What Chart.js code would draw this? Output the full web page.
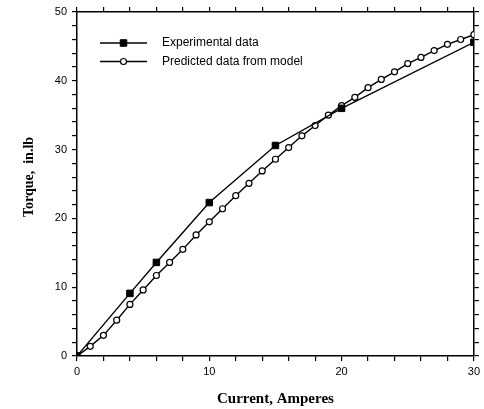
<!DOCTYPE html>
<html>
<head>
<meta charset="utf-8">
<script src="https://cdn.jsdelivr.net/npm/chart.js@4.4.0/dist/chart.umd.min.js"></script>
<style>
html, body { margin: 0; padding: 0; background: #fff; }
#wrap { width: 484px; height: 409px; }
</style>
</head>
<body>
<div id="wrap"><canvas id="torqueChart"></canvas></div>
<script>
// measured values
const currentExp = [0, 4, 6, 10, 15, 20, 30];
const torqueExp = [0, 9.1, 13.6, 22.3, 30.6, 36.0, 45.6];

const currentModel = [0, 1, 2, 3, 4, 5, 6, 7, 8, 9, 10, 11, 12, 13, 14, 15,
    16, 17, 18, 19, 20, 21, 22, 23, 24, 25, 26, 27, 28, 29, 30];
const torqueModel = [0, 1.4, 3.0, 5.2, 7.5, 9.6, 11.7, 13.6, 15.5, 17.6, 19.5,
    21.4, 23.3, 25.1, 26.9, 28.6, 30.3, 32.0, 33.5, 35.0, 36.4, 37.6, 39.0,
    40.2, 41.3, 42.5, 43.4, 44.4, 45.3, 46.0, 46.7];

const seriesLabels = ['Experimental data', 'Predicted data from model'];
const xLabelEvery = 10;
const yLabelEvery = 10;

const toPoints = (xs, ys) => xs.map((x, i) => ({ x: x, y: ys[i] }));

const tickFont = { family: "'Liberation Sans', Arial, sans-serif", size: 11 };
const serif = "'Liberation Serif', 'Times New Roman', serif";

// draws the legend inside the plot, line + marker like the original
const insetLegend = {
    id: 'insetLegend',
    afterDatasetsDraw(chart) {
        const { ctx, chartArea } = chart;
        chart.data.datasets.forEach((ds, i) => {
            const y = chartArea.top + 31 + i * 18.5;
            const x0 = chartArea.left + 23;
            const x1 = x0 + 47;
            ctx.save();
            ctx.strokeStyle = '#000';
            ctx.lineWidth = ds.borderWidth;
            ctx.beginPath();
            ctx.moveTo(x0, y);
            ctx.lineTo(x1, y);
            ctx.stroke();
            ctx.fillStyle = ds.pointBackgroundColor;
            ctx.strokeStyle = ds.pointBorderColor;
            ctx.lineWidth = ds.pointBorderWidth;
            Chart.helpers.drawPoint(ctx, {
                pointStyle: ds.pointStyle,
                radius: ds.pointRadius,
                borderWidth: ds.pointBorderWidth,
                rotation: 0
            }, (x0 + x1) / 2, y);
            ctx.fillStyle = '#000';
            ctx.font = "12px 'Liberation Sans', Arial, sans-serif";
            ctx.textAlign = 'left';
            ctx.textBaseline = 'middle';
            ctx.fillText(ds.label, chartArea.left + 85, y);
            ctx.restore();
        });
    }
};

const axisBase = {
    type: 'linear',
    border: { display: true, color: '#000', width: 1.5 },
    grid: { drawOnChartArea: false, drawTicks: true, tickLength: 5, color: '#000', lineWidth: 1.2 }
};

const ctx = document.getElementById('torqueChart').getContext('2d');
const torqueChart = new Chart(ctx, {
    type: 'scatter',
    data: {
        datasets: [
            {
                label: seriesLabels[0],
                data: toPoints(currentExp, torqueExp),
                showLine: true,
                borderColor: '#000',
                borderWidth: 1.4,
                pointStyle: 'rect',
                pointRadius: 4.6,
                pointBackgroundColor: '#000',
                pointBorderColor: '#000',
                pointBorderWidth: 1,
                tension: 0
            },
            {
                label: seriesLabels[1],
                data: toPoints(currentModel, torqueModel),
                showLine: true,
                borderColor: '#000',
                borderWidth: 1.4,
                pointStyle: 'circle',
                pointRadius: 3,
                pointBackgroundColor: '#fff',
                pointBorderColor: '#000',
                pointBorderWidth: 1.2,
                tension: 0
            }
        ]
    },
    options: {
        responsive: true,
        maintainAspectRatio: false,
        animation: false,
        layout: { padding: 0 },
        plugins: {
            legend: { display: false },
            tooltip: { enabled: false }
        },
        scales: {
            x: {
                ...axisBase,
                position: 'bottom',
                min: 0,
                max: 30,
                afterFit: s => { s.height = 53; },
                ticks: {
                    stepSize: 2,
                    autoSkip: false,
                    maxRotation: 0,
                    padding: 4,
                    color: '#000',
                    font: tickFont,
                    callback: v => (v % xLabelEvery === 0 ? v : '')
                },
                title: {
                    display: true,
                    text: 'Current, Amperes',
                    color: '#000',
                    font: { family: serif, size: 15, weight: 'bold' },
                    padding: { top: 0, bottom: 1 }
                }
            },
            x2: {
                ...axisBase,
                position: 'top',
                min: 0,
                max: 30,
                afterFit: s => { s.height = 12; },
                ticks: { stepSize: 2, autoSkip: false, callback: () => '' }
            },
            y: {
                ...axisBase,
                position: 'left',
                min: 0,
                max: 50,
                afterFit: s => { s.width = 77; },
                ticks: {
                    stepSize: 2,
                    autoSkip: false,
                    padding: 5,
                    color: '#000',
                    font: tickFont,
                    callback: v => (v % yLabelEvery === 0 ? v : '')
                },
                title: {
                    display: true,
                    // leading spaces nudge the rotated title upward, as in the original
                    text: '    Torque,  in.lb',
                    color: '#000',
                    font: { family: serif, size: 14, weight: 'bold' },
                    padding: { top: 21, bottom: 0 }
                }
            },
            y2: {
                ...axisBase,
                position: 'right',
                min: 0,
                max: 50,
                afterFit: s => { s.width = 7; },
                ticks: { stepSize: 2, autoSkip: false, callback: () => '' }
            }
        }
    },
    plugins: [insetLegend]
});
</script>
</body>
</html>
